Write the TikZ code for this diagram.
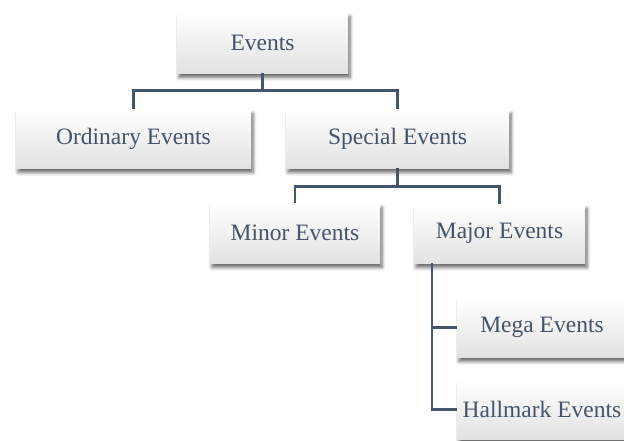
\documentclass[tikz,border=0pt]{standalone}
\usepackage{fontspec}
\setmainfont{Liberation Serif}
\usetikzlibrary{shadows.blur}
\definecolor{slate}{HTML}{44546A}
\definecolor{boxbottom}{HTML}{E2E2E2}
\begin{document}
\begin{tikzpicture}[x=1pt,y=-1pt,
  orgbox/.style={draw=none, inner sep=0pt, minimum height=59pt,
    top color=white, middle color=white, bottom color=boxbottom,
    blur shadow={shadow xshift=2pt, shadow yshift=-4.5pt, shadow blur radius=3.5pt,
      shadow blur steps=6, shadow opacity=60},
    text=slate, font=\fontsize{23.5}{28}\selectfont},
  link/.style={draw=slate, line width=2.6pt}]
  \useasboundingbox (0,0) rectangle (624,440);
  \clip (0,0) rectangle (624,440);

  % tree nodes
  \node[orgbox, minimum width=171pt, minimum height=61pt] (ev)   at (262.5,42.5) {Events};
  \node[orgbox, minimum width=235pt] (ord)  at (133.5,138.5) {Ordinary Events};
  \node[orgbox, minimum width=223pt] (spe)  at (397.5,138.5) {Special Events};
  \node[orgbox, minimum width=170pt, minimum height=60pt] (mnr) at (295,233) {Minor Events};
  \node[orgbox, minimum width=171pt] (mjr)  at (499.5,233.5) {Major Events};
  \node[orgbox, minimum width=170pt] (mega) at (542,327.5) {Mega Events};
  \node[orgbox, minimum width=170pt] (hall) at (542,409.5) {Hallmark Events};

  % connectors
  \draw[link] (ev.south) -- ++(0,17.5) -| (ord.north);
  \draw[link] (ev.south) -- ++(0,17.5) -| (spe.north);
  \draw[link] (spe.south) -- ++(0,18) -| (mnr.north);
  \draw[link] (spe.south) -- ++(0,18) -| (mjr.north);
  \draw[link] ([xshift=18pt]mjr.south west) |- (mega.west);
  \draw[link] ([xshift=18pt]mjr.south west) |- (hall.west);
\end{tikzpicture}
\end{document}
